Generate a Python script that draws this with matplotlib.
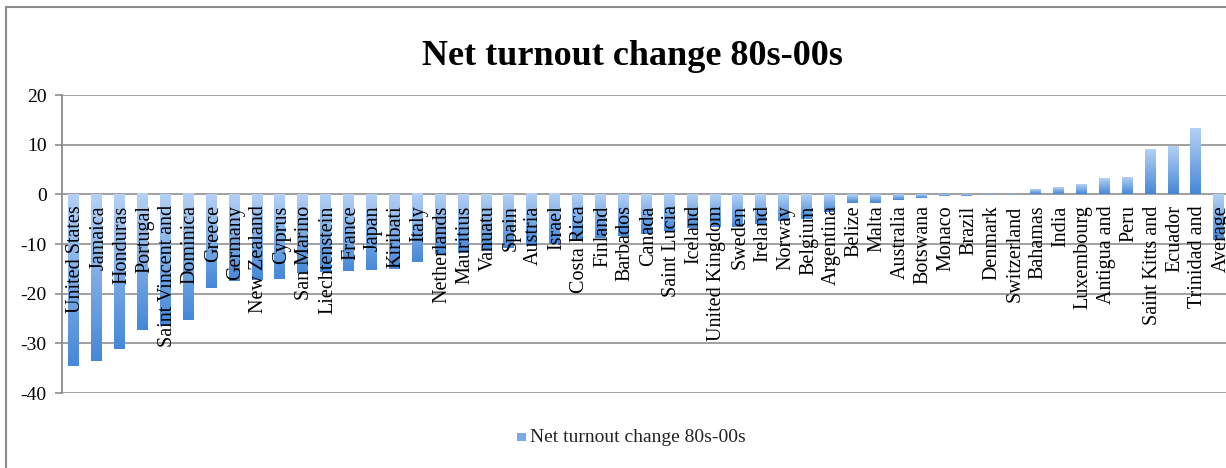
import matplotlib
matplotlib.use("Agg")
import matplotlib.pyplot as plt
import numpy as np
from matplotlib.colors import LinearSegmentedColormap
from matplotlib.patches import Rectangle

countries = ["United States", "Jamaica", "Honduras", "Portugal", "Saint Vincent and",
             "Dominica", "Greece", "Germany", "New Zealand", "Cyprus", "San Marino",
             "Liechtenstein", "France", "Japan", "Kiribati", "Italy", "Netherlands",
             "Mauritius", "Vanuatu", "Spain", "Austria", "Israel", "Costa Rica",
             "Finland", "Barbados", "Canada", "Saint Lucia", "Iceland", "United Kingdom",
             "Sweden", "Ireland", "Norway", "Belgium", "Argentina", "Belize", "Malta",
             "Australia", "Botswana", "Monaco", "Brazil", "Denmark", "Switzerland",
             "Bahamas", "India", "Luxembourg", "Antigua and", "Peru", "Saint Kitts and",
             "Ecuador", "Trinidad and", "Average"]
change = [-34.6, -33.6, -31.2, -27.4, -26.5,
          -25.4, -18.9, -17.5, -17.3, -17.1, -15.9,
          -15.7, -15.5, -15.2, -15.0, -13.7, -12.0,
          -11.8, -11.4, -10.8, -10.5, -10.1, -9.4,
          -8.7, -8.3, -8.0, -7.4, -6.8, -6.6,
          -6.5, -6.0, -5.4, -5.0, -3.6, -1.8, -1.7,
          -1.2, -0.7, -0.3, -0.3, -0.1, -0.1,
          1.0, 1.3, 2.0, 3.2, 3.4, 9.0,
          9.5, 13.1, -9.2]
yticks = [20, 10, 0, -10, -20, -30, -40]
title = "Net turnout change 80s-00s"

serif = "Liberation Serif"
W, H = 1226, 468
fig = plt.figure(figsize=(W / 100, H / 100), dpi=100)

# outer chart frame, runs off the right/bottom edge like the screenshot
fig.add_artist(Rectangle((6 / W, -0.1), 1.2, 1 - 7 / H + 0.1, transform=fig.transFigure,
                         fill=False, edgecolor="#8c8c8c", linewidth=1.5))

ax = fig.add_axes([62 / W, 75 / H, (1230 - 62) / W, 298 / H])
x = np.arange(len(countries))
bars = ax.bar(x, change, width=0.45, color="#6fa3e3", zorder=2)

# vertical gradient fill: light at top, darker at bottom
cmap = LinearSegmentedColormap.from_list("blu", ["#b4d0f4", "#4688d8"])
grad = np.linspace(0, 1, 64).reshape(-1, 1)
for b in bars:
    bx, by = b.get_x(), b.get_y()
    bw, bh = b.get_width(), b.get_height()
    y0, y1 = min(by, by + bh), max(by, by + bh)
    ax.imshow(grad, cmap=cmap, aspect="auto", extent=(bx, bx + bw, y0, y1),
              origin="upper", zorder=2.5)
    b.set_alpha(0)

ax.set_xlim(-0.5, len(countries) - 0.5)
ax.set_ylim(-40, 20)
ax.set_yticks(yticks)
ax.set_yticklabels([str(t) for t in yticks], fontfamily=serif, fontsize=14)
ax.tick_params(axis="y", length=5, width=1.2, color="#8c8c8c", pad=6)
ax.tick_params(axis="x", bottom=False, labelbottom=False)
ax.grid(axis="y", color="#999999", linewidth=1.3, zorder=1)
ax.set_axisbelow(True)
for s in ["top", "right", "bottom"]:
    ax.spines[s].set_visible(False)
ax.spines["left"].set_color("#8c8c8c")
ax.spines["left"].set_linewidth(1.3)

for xi, name in zip(x, countries):
    ax.text(xi + 0.1, -2.2, name, rotation=90, ha="center", va="top",
            fontfamily=serif, fontsize=14.5, color="black", zorder=4)

fig.text(632 / W, 1 - 65 / H, title, ha="center", va="baseline", fontfamily=serif,
         fontweight="bold", fontsize=26)

# legend
fig.add_artist(Rectangle((517 / W, 1 - 441 / H), 9 / W, 8 / H, transform=fig.transFigure,
                         facecolor="#7aaae6", edgecolor="none"))
fig.text(530 / W, 1 - 438 / H, title, ha="left", va="center", fontfamily=serif,
         fontsize=14, color="#222222")

fig.savefig("out.png", dpi=100)
